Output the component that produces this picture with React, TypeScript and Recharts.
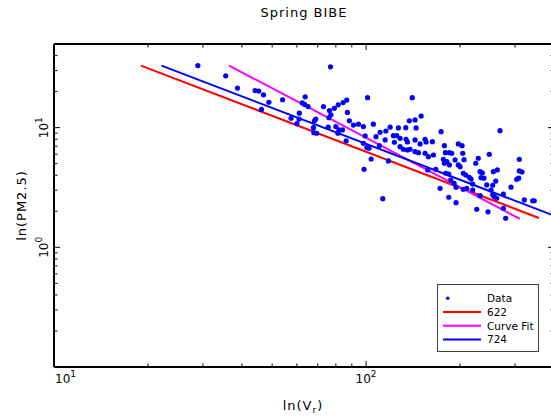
import { ComposedChart, XAxis, YAxis, Scatter, Line, Legend, Customized } from 'recharts';

// ── axis ticks ──
const xTicks = [10, 20, 30, 40, 50, 60, 70, 80, 90, 100, 200, 300, 400];
const yTicks = [
  0.1, 0.2, 0.3, 0.4, 0.5, 0.6, 0.7, 0.8, 0.9,
  1, 2, 3, 4, 5, 6, 7, 8, 9,
  10, 20, 30, 40, 50,
];

// ── observed points (Vr, PM2.5) ──
const vr = [
  28.9, 35.5, 38.7, 44.1, 45.3, 46.9, 48.8, 46.2, 54.0, 63.8, 62.5, 63.6, 65.2,
  61.1, 57.5, 61.0, 60.0, 69.0, 68.3, 67.8, 68.0, 69.5, 73.0, 76.9, 76.3, 77.1,
  76.0, 79.1, 81.4, 84.4, 86.7, 75.6, 80.0, 81.8, 81.2, 84.0, 86.3, 87.1, 88.4,
  91.1, 94.5, 98.0, 99.3, 98.0, 98.5, 103.8, 100.5, 102.2, 105.5, 101.1, 140.6,
  107.6, 110.9, 115.7, 119.4, 126.9, 137.6, 143.5, 150.1, 134.0, 144.6,
  110.3, 115.1, 122.3, 123.2, 117.9, 113.1,
  128.5, 131.7, 135.6, 138.3, 143.5, 147.1,
  125.4, 128.5, 134.3, 135.6, 143.5, 148.9,
  154.5, 155.7, 163.1, 173.9,
  154.5, 158.3, 164.3, 157.6, 167.2, 172.6,
  178.2, 179.5, 184.8, 188.1,
  176.9, 181.4, 178.2, 184.8, 180.0, 184.0,
  192.8, 197.5, 203.0, 204.0, 206.0, 197.5, 200.0,
  186.7, 191.4, 194.2, 204.9, 208.6, 214.1,
  184.0, 194.2, 204.9, 216.9, 219.6, 210.1, 219.6,
  224.5, 228.8, 231.7, 235.7, 233.4, 238.6,
  248.1, 243.5, 254.5, 260.2, 255.6, 263.3,
  226.2, 245.8, 251.3, 254.5, 257.5, 262.1, 231.7,
  268.6, 275.3, 280.1, 275.3,
  291.3, 303.8, 308.3, 309.7, 309.7, 315.9,
  321.3, 341.8, 345.8,
];
const pm = [
  33.0, 27.1, 21.4, 20.4, 20.2, 18.8, 16.3, 14.2, 17.1, 18.1, 16.1, 15.6, 15.0,
  13.2, 12.0, 11.8, 10.8, 11.8, 11.4, 10.0, 9.08, 8.98, 15.0, 32.2, 13.9, 12.8,
  12.1, 14.5, 15.5, 16.2, 17.0, 10.1, 10.2, 9.57, 8.98, 9.57, 7.74, 13.4, 11.4,
  10.5, 10.7, 10.2, 8.52, 7.41, 4.49, 5.47, 6.81, 6.73, 10.7, 17.8, 17.8,
  8.41, 9.15, 9.38, 10.1, 9.94, 11.4, 11.6, 12.5, 10.0, 9.94,
  7.07, 7.89, 8.57, 7.55, 5.27, 2.55,
  6.94, 6.60, 6.51, 6.60, 6.30, 6.18,
  8.57, 8.15, 8.00, 7.59, 7.89, 7.31,
  8.00, 7.59, 7.64, 9.26,
  6.11, 5.72, 5.91, 4.43, 4.49, 3.11,
  7.07, 6.18, 6.18, 6.11,
  5.44, 5.20, 5.04, 4.88, 4.16, 4.10,
  5.37, 7.31, 7.07, 6.11, 5.40, 4.88, 4.72,
  3.65, 3.43, 3.18, 4.16, 4.02, 3.85,
  2.62, 2.36, 3.05, 3.72, 3.38, 3.11, 3.01,
  5.04, 5.55, 4.29, 4.20, 3.82, 3.78,
  5.99, 3.32, 3.30, 3.58, 4.29, 4.43,
  2.08, 1.98, 3.01, 2.74, 2.65, 2.57, 2.70,
  9.44, 2.79, 1.75, 2.12,
  3.18, 3.70, 3.78, 4.35, 5.44, 4.26,
  2.49, 2.45, 2.45,
];

// ── fitted lines (end points) ──
const fit622X = [19.0, 358];
const fit622Y = [33.0, 1.76];
const curveFitX = [36.4, 311];
const curveFitY = [33.0, 1.73];
const fit724X = [22.1, 400];
const fit724Y = [33.0, 1.84];

const legendNames = ['Data', '622', 'Curve Fit', '724'];
const legendColors = ['#0000ff', '#ff0000', '#ff00ff', '#0000ff'];

const FONT = '"DejaVu Sans", sans-serif';

const toPoints = (xs: number[], ys: number[]) => xs.map((x, i) => ({ x, y: ys[i] }));
const scatterData = toPoints(vr, pm);
const data622 = toPoints(fit622X, fit622Y);
const dataCurve = toPoints(curveFitX, curveFitY);
const data724 = toPoints(fit724X, fit724Y);

const isPow10 = (v: number) => Math.abs(Math.log10(v) - Math.round(Math.log10(v))) < 1e-9;

const BottomTick = (props: any) => {
  const { x, y, payload } = props;
  const v = payload.value;
  const major = isPow10(v);
  const first = v === xTicks[0];
  return (
    <g>
      <line x1={x} y1={y} x2={x} y2={y - (major ? 6 : 3.5)} stroke="#000" />
      {major && (
        <text
          x={first ? x + 1 : x}
          y={y + 16}
          textAnchor={first ? 'start' : 'middle'}
          fontFamily={FONT}
          fontSize={12}
          fill="#000"
        >
          10
          <tspan dy={-6} fontSize={9}>{Math.round(Math.log10(v))}</tspan>
        </text>
      )}
    </g>
  );
};

const TopTick = (props: any) => {
  const { x, y, payload } = props;
  const major = isPow10(payload.value);
  return <line x1={x} y1={y} x2={x} y2={y + (major ? 6 : 3.5)} stroke="#000" />;
};

const LeftTick = (props: any) => {
  const { x, y, payload } = props;
  const v = payload.value;
  const major = isPow10(v);
  const showLabel = major && v >= 1;
  return (
    <g>
      <line x1={x} y1={y} x2={x + (major ? 6 : 3.5)} y2={y} stroke="#000" />
      {showLabel && (
        <text
          transform={`translate(${x - 6},${y}) rotate(-90)`}
          textAnchor="middle"
          fontFamily={FONT}
          fontSize={12}
          fill="#000"
        >
          10
          <tspan dy={-6} fontSize={9}>{Math.round(Math.log10(v))}</tspan>
        </text>
      )}
    </g>
  );
};

const RightTick = (props: any) => {
  const { x, y, payload } = props;
  const major = isPow10(payload.value);
  return <line x1={x} y1={y} x2={x - (major ? 6 : 3.5)} y2={y} stroke="#000" />;
};

const Titles = () => (
  <g fontFamily={FONT} fill="#000">
    <text x={304} y={17} textAnchor="middle" fontSize={13} letterSpacing={1}>
      Spring BIBE
    </text>
    <text x={303} y={410} textAnchor="middle" fontSize={13} letterSpacing={1}>
      ln(V<tspan fontSize={9} dy={3}>r</tspan>
      <tspan dy={-3}>)</tspan>
    </text>
    <text
      transform="translate(26,205.5) rotate(-90)"
      textAnchor="middle"
      fontSize={13}
      letterSpacing={1}
    >
      ln(PM2.5)
    </text>
  </g>
);

const LegendBox = () => (
  <svg width={102} height={68} style={{ display: 'block' }}>
    <rect x={0.5} y={0.5} width={101} height={67} fill="#fff" stroke="#404040" />
    {legendNames.map((name, i) => {
      const cy = 14.3 + i * 13.7;
      return (
        <g key={name}>
          {i === 0 ? (
            <circle cx={10.7} cy={cy} r={1.8} fill={legendColors[i]} />
          ) : (
            <line x1={6} x2={44} y1={cy} y2={cy} stroke={legendColors[i]} strokeWidth={2} />
          )}
          <text x={50} y={cy + 4} fontFamily={FONT} fontSize={10.5} fill="#000">
            {name}
          </text>
        </g>
      );
    })}
  </svg>
);

export default function App() {
  return (
    <div
      style={{
        position: 'absolute',
        left: 0,
        top: 0,
        width: 551,
        height: 420,
        overflow: 'hidden',
        background: '#fff',
      }}
    >
      <ComposedChart width={560} height={420} margin={{ top: 43, right: 0, bottom: 0, left: 0 }}>
        <XAxis
          xAxisId="b"
          dataKey="x"
          type="number"
          scale="log"
          domain={[10, 400]}
          ticks={xTicks}
          interval={0}
          orientation="bottom"
          height={53}
          tickSize={0}
          tickMargin={0}
          tickLine={false}
          tick={<BottomTick />}
          axisLine={{ stroke: '#000', strokeWidth: 2 }}
          allowDataOverflow
        />
        <XAxis
          xAxisId="t"
          dataKey="x"
          type="number"
          scale="log"
          domain={[10, 400]}
          ticks={xTicks}
          interval={0}
          orientation="top"
          height={1}
          tickSize={0}
          tickMargin={0}
          tickLine={false}
          tick={<TopTick />}
          axisLine={{ stroke: '#000', strokeWidth: 2 }}
          allowDataOverflow
        />
        <YAxis
          yAxisId="l"
          dataKey="y"
          type="number"
          scale="log"
          domain={[0.1, 50]}
          ticks={yTicks}
          interval={0}
          orientation="left"
          width={54}
          tickSize={0}
          tickMargin={0}
          tickLine={false}
          tick={<LeftTick />}
          axisLine={{ stroke: '#000', strokeWidth: 2 }}
          allowDataOverflow
        />
        <YAxis
          yAxisId="r"
          dataKey="y"
          type="number"
          scale="log"
          domain={[0.1, 50]}
          ticks={yTicks}
          interval={0}
          orientation="right"
          width={6}
          tickSize={0}
          tickMargin={0}
          tickLine={false}
          tick={<RightTick />}
          axisLine={{ stroke: '#000', strokeWidth: 2 }}
          allowDataOverflow
        />
        <Line
          xAxisId="b"
          yAxisId="l"
          data={data622}
          dataKey="y"
          type="linear"
          stroke="#ff0000"
          strokeWidth={2}
          dot={false}
          isAnimationActive={false}
        />
        <Line
          xAxisId="b"
          yAxisId="l"
          data={dataCurve}
          dataKey="y"
          type="linear"
          stroke="#ff00ff"
          strokeWidth={2}
          dot={false}
          isAnimationActive={false}
        />
        <Line
          xAxisId="b"
          yAxisId="l"
          data={data724}
          dataKey="y"
          type="linear"
          stroke="#0000ff"
          strokeWidth={2}
          dot={false}
          isAnimationActive={false}
        />
        <Scatter
          xAxisId="b"
          yAxisId="l"
          data={scatterData}
          dataKey="y"
          fill="#0000ff"
          shape={(p: any) => <circle cx={p.cx} cy={p.cy} r={2.6} fill="#0000ff" />}
          isAnimationActive={false}
        />
        <Customized component={Titles} />
        <Legend
          layout="horizontal"
          verticalAlign="middle"
          align="center"
          content={() => <LegendBox />}
          wrapperStyle={{ position: 'absolute', left: 437, top: 284, width: 102, height: 68 }}
        />
      </ComposedChart>
    </div>
  );
}
